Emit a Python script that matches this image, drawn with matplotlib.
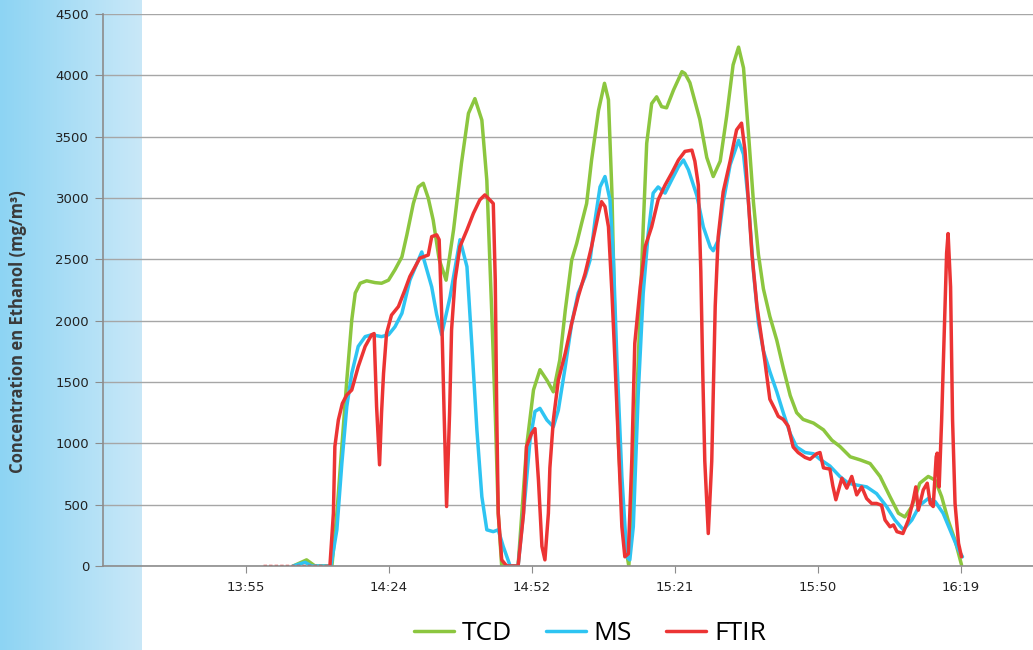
import numpy as np
import matplotlib
matplotlib.use("Agg")
import matplotlib.pyplot as plt
from matplotlib.colors import LinearSegmentedColormap

# time in minutes since midnight, concentrations in mg/m3
tcd_t = [844.7, 847.4, 849.1, 852.5, 853.5, 854.5, 855.5, 856.5, 857.2, 858.2,
         859.5, 861.2, 862.5, 863.9, 865.2, 866.6, 867.6, 868.9, 869.9, 870.9,
         871.9, 872.9, 874.1, 875.5, 877.0, 878.6, 880.0, 881.3, 882.7, 883.7,
         884.7, 885.4, 886.0, 886.7, 890.0, 891.7, 893.1, 894.4, 895.8, 897.1,
         898.4, 899.5, 900.8, 901.8, 902.8, 903.8, 904.8, 906.2, 907.4, 908.2,
         908.9, 909.5, 910.2, 911.2, 912.3, 913.2, 914.2, 915.2, 915.9, 916.9,
         917.9, 918.9, 919.9, 921.3, 923.0, 923.6, 924.6, 926.6, 928.0, 929.3,
         930.7, 932.0, 933.3, 934.4, 935.4, 936.4, 937.4, 938.4, 939.4, 940.7,
         942.1, 943.4, 944.8, 946.1, 947.4, 949.5, 951.5, 953.2, 954.8, 956.9,
         958.9, 960.9, 962.9, 964.9, 966.6, 967.9, 969.3, 970.9, 972.6, 974.0,
         975.3, 976.6, 978.0, 979.3]
tcd_v = [0, 50, 0, 0, 430, 970, 1515, 2005, 2225, 2305,
         2325, 2310, 2305, 2330, 2415, 2520, 2700, 2955, 3090, 3120,
         3000, 2820, 2500, 2330, 2740, 3285, 3690, 3810, 3635, 3145,
         2060, 1245, 430, 0, 0, 970, 1435, 1600, 1515, 1420,
         1680, 2085, 2495, 2630, 2795, 2955, 3310, 3715, 3935, 3800,
         3040, 1950, 1000, 265, 0, 590, 1680, 2765, 3445, 3770,
         3825, 3745, 3735, 3880, 4030, 4015, 3940, 3640, 3330, 3175,
         3300, 3665, 4085, 4230, 4060, 3525, 2965, 2540, 2260, 2035,
         1840, 1615, 1390, 1250, 1195, 1165, 1110, 1025, 975, 890,
         865, 835, 730, 565, 430, 400, 485, 675, 730, 700,
         565, 375, 210, 10]

ms_t = [844.7, 847.1, 848.4, 852.3, 853.5, 854.5, 855.5, 856.5, 857.8, 859.2,
        860.5, 862.5, 863.9, 865.2, 866.6, 868.2, 870.6, 872.6, 873.6, 874.6,
        876.3, 878.3, 879.7, 880.7, 881.7, 882.7, 883.7, 885.0, 886.0, 887.0,
        888.4, 890.0, 891.4, 892.4, 893.4, 894.4, 895.8, 897.1, 898.1, 899.5,
        900.8, 902.1, 903.5, 904.5, 905.5, 906.5, 907.5, 908.5, 909.2, 909.9,
        910.9, 911.9, 912.5, 913.2, 914.2, 915.2, 916.2, 917.2, 918.2, 919.6,
        920.9, 922.3, 923.3, 924.3, 926.0, 927.3, 928.7, 929.3, 930.3, 931.3,
        932.7, 934.4, 935.4, 936.4, 937.4, 938.4, 939.4, 940.7, 942.1, 943.4,
        944.8, 946.1, 947.8, 949.5, 950.8, 952.8, 954.8, 956.5, 958.2, 960.2,
        962.2, 964.2, 965.9, 967.6, 969.3, 970.9, 972.6, 974.0, 975.6, 977.3,
        978.7, 979.5]
ms_v = [0, 30, 0, 0, 295, 835, 1300, 1570, 1790, 1870,
        1885, 1870, 1885, 1950, 2060, 2330, 2560, 2275, 2050, 1885,
        2195, 2660, 2440, 1790, 1110, 565, 295, 280, 295, 160,
        0, 0, 565, 1025, 1260, 1285, 1190, 1135, 1270, 1625,
        1980, 2225, 2360, 2495, 2820, 3090, 3175, 2985, 2495, 1680,
        730, 75, 50, 320, 1410, 2225, 2710, 3040, 3090, 3040,
        3145, 3255, 3310, 3230, 3020, 2765, 2600, 2570, 2655, 2965,
        3270, 3470, 3355, 2965, 2400, 1980, 1755, 1585, 1420, 1250,
        1080, 970, 925, 915, 870, 815, 730, 675, 660, 645,
        590, 485, 375, 295, 375, 495, 550, 525, 430, 265,
        130, 75]

ftir_t = [838.7, 852.1, 852.8, 853.1, 853.8, 854.6, 855.5, 856.5, 857.8, 859.2,
          860.5, 861.0, 861.5, 862.1, 862.5, 862.9, 863.5, 864.5, 865.9, 867.2,
          868.2, 870.2, 871.9, 872.6, 873.6, 874.1, 874.6, 875.1, 875.6, 876.2,
          876.6, 877.3, 878.3, 879.7, 881.0, 882.3, 883.3, 884.3, 885.0, 885.4,
          885.7, 886.0, 886.7, 887.7, 890.0, 891.1, 891.7, 892.7, 893.4, 894.1,
          894.8, 895.4, 896.1, 896.4, 897.1, 898.1, 899.5, 900.8, 902.1, 903.5,
          904.8, 906.2, 906.8, 907.5, 908.2, 908.9, 909.5, 910.2, 910.9, 911.5,
          912.2, 912.9, 913.5, 914.6, 915.6, 916.9, 918.2, 919.6, 920.9, 922.3,
          923.6, 925.0, 925.6, 926.3, 926.8, 927.2, 927.6, 928.3, 929.0, 929.7,
          930.3, 931.3, 932.7, 934.0, 935.0, 935.7, 936.4, 937.1, 938.1, 939.1,
          939.7, 940.7, 941.7, 942.4, 943.4, 944.4, 945.4, 946.4, 947.8, 948.8,
          950.1, 950.8, 951.5, 952.8, 953.4, 954.0, 955.2, 956.2, 957.2, 958.2,
          959.2, 960.2, 961.2, 962.2, 963.2, 963.9, 964.9, 965.6, 966.3, 967.5,
          968.6, 969.6, 970.1, 970.6, 971.6, 972.4, 973.0, 973.6, 974.2, 974.4,
          974.8, 975.3, 975.8, 976.3, 976.6, 977.1, 977.5, 978.0, 978.7, 979.3]
ftir_v = [0, 0, 430, 975, 1190, 1325, 1395, 1435, 1625, 1790,
          1885, 1895, 1300, 825, 1250, 1570, 1895, 2045, 2115, 2250,
          2360, 2510, 2535, 2685, 2700, 2660, 2060, 1245, 485, 1245,
          1925, 2330, 2605, 2740, 2875, 2985, 3025, 2985, 2955, 2330,
          1245, 430, 50, 0, 0, 430, 975, 1080, 1120, 700,
          160, 50, 430, 800, 1190, 1515, 1735, 1980, 2195, 2385,
          2605, 2875, 2970, 2930, 2765, 2225, 1680, 1000, 320, 75,
          100, 865, 1815, 2275, 2605, 2765, 2985, 3105, 3200, 3310,
          3380, 3390, 3300, 3105, 2400, 1560, 855, 265, 855, 2120,
          2685, 3050, 3300, 3555, 3610, 3385, 2965, 2540, 2120, 1840,
          1670, 1360, 1280, 1220, 1195, 1140, 970, 925, 885, 870,
          915, 925, 800, 790, 650, 540, 715, 635, 730, 580,
          645, 550, 510, 510, 495, 375, 320, 335, 280, 265,
          375, 540, 645, 455, 620, 675, 510, 485, 890, 920,
          645, 1190, 1870, 2550, 2710, 2275, 1190, 510, 185, 75]

tick_pos = [835.2, 864.0, 892.8, 921.6, 950.4, 979.2]
tick_lab = ["13:55", "14:24", "14:52", "15:21", "15:50", "16:19"]

fig = plt.figure(figsize=(10.33, 6.5), dpi=100)

# light blue band on the left
bg = fig.add_axes([0, 0, 142 / 1033, 1])
grad = np.linspace(0, 1, 256).reshape(1, -1)
cmap = LinearSegmentedColormap.from_list("band", ["#8dd4f3", "#c9e8f8"])
bg.imshow(grad, aspect="auto", cmap=cmap, extent=[0, 1, 0, 1])
bg.axis("off")

ax = fig.add_axes([103 / 1033, 84 / 650, 930 / 1033, 552 / 650])
ax.set_facecolor("none")

style = dict(lw=2.5, solid_capstyle="round", solid_joinstyle="round")
ax.plot(tcd_t, tcd_v, color="#8cc63f", label="TCD", **style)
ax.plot(ms_t, ms_v, color="#2ec4f2", label="MS", **style)
# flat start of the FTIR trace looks dotted in the original
ax.plot(ftir_t[:2], ftir_v[:2], color="#ec3434", lw=2.5, linestyle=(0, (1, 0.6)))
ax.plot(ftir_t[1:], ftir_v[1:], color="#ec3434", label="FTIR", **style)

ax.set_xlim(806.4, 993.7)
ax.set_ylim(0, 4500)
ax.set_yticks(range(0, 4501, 500))
ax.set_xticks(tick_pos)
ax.set_xticklabels(tick_lab)
ax.grid(axis="y", color="#a6a6a6", lw=1)
ax.set_axisbelow(True)
for s in ["top", "right"]:
    ax.spines[s].set_visible(False)
for s in ["left", "bottom"]:
    ax.spines[s].set_color("#8c8c8c")
    ax.spines[s].set_linewidth(1.2)
ax.tick_params(axis="y", length=6, color="#8c8c8c", labelsize=9.5, labelcolor="#222222", pad=4)
ax.tick_params(axis="x", length=5, color="#8c8c8c", labelsize=9.5, labelcolor="#222222", pad=6)

fig.text(18 / 1033, 1 - 332 / 650, "Concentration en Ethanol (mg/m\u00b3)", rotation=90,
         ha="center", va="center", fontsize=12, fontweight="bold", color="#3a3a3a",
         family="Open Sans")

fig.legend(loc="center", bbox_to_anchor=(590 / 1033, 1 - 634 / 650), ncol=3,
           frameon=False, prop={"family": "Open Sans", "size": 19},
           handlelength=1.5, handletextpad=0.3, columnspacing=1.3)

fig.savefig("out.png", dpi=100)
